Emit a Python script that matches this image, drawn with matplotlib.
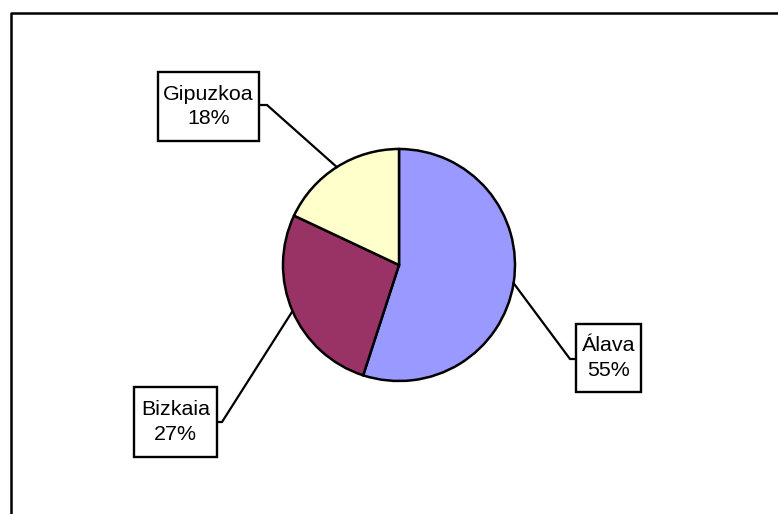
import numpy as np
import matplotlib
matplotlib.use("Agg")
import matplotlib.pyplot as plt
from matplotlib.lines import Line2D
from matplotlib.patches import Rectangle

# data
provinces = ["Álava", "Bizkaia", "Gipuzkoa"]
shares = [55, 27, 18]
colors = ["#9999FF", "#993366", "#FFFFCC"]

W, H = 778, 514
plt.rcParams['font.family'] = ['Liberation Sans', 'DejaVu Sans']

fig = plt.figure(figsize=(W / 100, H / 100), dpi=100)
ax = fig.add_axes([0, 0, 1, 1])

# outer frame (left and top edges visible only)
fig.add_artist(Line2D([10.5 / W, 10.5 / W, 1.01], [-0.01, 1 - 12.5 / H, 1 - 12.5 / H],
                      transform=fig.transFigure, color="black", lw=1.8))

cx, cy, r = 399, H - 265, 116
wedges, _ = ax.pie(shares, colors=colors, startangle=90, counterclock=False,
                   center=(cx, cy), radius=r, frame=True,
                   wedgeprops=dict(edgecolor="black", linewidth=1.8))
ax.set_xlim(0, W)
ax.set_ylim(0, H)
ax.set_aspect("equal")
ax.set_axis_off()

# label boxes: (x0, x1, y0, y1 of box, elbow point) in pixels, y from top
layout = {
    "Álava": ((576, 641, 324, 392), (570, 359)),
    "Bizkaia": ((134, 217, 387, 457), (222, 422)),
    "Gipuzkoa": ((158, 259, 72, 141), (267, 105)),
}

for w, name, val in zip(wedges, provinces, shares):
    mid = np.deg2rad((w.theta1 + w.theta2) / 2)
    ex, ey = cx + r * np.cos(mid), cy + r * np.sin(mid)
    (x0, x1, y0, y1), (kx, ky) = layout[name]
    bx = x1 if kx > x1 else x0
    ax.plot([ex, kx, bx], [ey, H - ky, H - ky], color="black", lw=1.6,
            solid_joinstyle="miter", zorder=1)
    ax.add_patch(Rectangle((x0, H - y1), x1 - x0, y1 - y0, fc="white",
                           ec="black", lw=1.7, zorder=4))
    ax.text((x0 + x1) / 2, H - (y0 + y1) / 2, f"{name}\n{val}%",
            ha="center", va="center", fontsize=15.4, linespacing=1.35, zorder=5)

fig.savefig("out.png", dpi=100)
